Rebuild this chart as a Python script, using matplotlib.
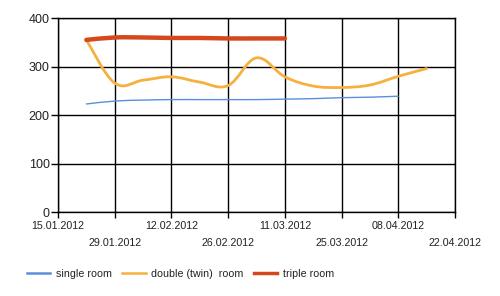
import matplotlib
matplotlib.use('Agg')
import matplotlib.pyplot as plt
import matplotlib.dates as mdates
from matplotlib.path import Path
from matplotlib.patches import PathPatch
from matplotlib.lines import Line2D
import numpy as np
import datetime as dt

plt.rcParams['font.family'] = ['Liberation Sans', 'DejaVu Sans']

# weekly observations
single_dates = ['22.01.2012', '29.01.2012', '05.02.2012', '12.02.2012', '19.02.2012', '26.02.2012',
                '04.03.2012', '11.03.2012', '18.03.2012', '25.03.2012', '01.04.2012', '08.04.2012']
single_vals = [223, 229, 231, 232, 232, 232, 232, 233, 234, 236, 237, 239]

double_dates = ['22.01.2012', '29.01.2012', '05.02.2012', '12.02.2012', '19.02.2012', '26.02.2012',
                '04.03.2012', '11.03.2012', '18.03.2012', '25.03.2012', '01.04.2012', '08.04.2012',
                '15.04.2012']
double_vals = [355, 266, 272, 279, 268, 261, 318, 279, 260, 257, 262, 280, 296]

triple_dates = ['22.01.2012', '29.01.2012', '05.02.2012', '12.02.2012', '19.02.2012', '26.02.2012',
                '04.03.2012', '11.03.2012']
triple_vals = [355, 360, 360, 359, 359, 358, 358, 358]

tick_labels = ['15.01.2012', '29.01.2012', '12.02.2012', '26.02.2012',
               '11.03.2012', '25.03.2012', '08.04.2012', '22.04.2012']

series = [
    ('single room', single_dates, single_vals, '#5b8fdc', 1.0),
    ('double (twin)  room', double_dates, double_vals, '#f5b040', 2.0),
    ('triple room', triple_dates, triple_vals, '#d4481c', 3.2),
]


def to_num(ds):
    return mdates.date2num([dt.datetime.strptime(d, '%d.%m.%Y') for d in ds])


def smooth_path(x, y, k=0.18):
    # cubic bezier through the points (cardinal-spline style smoothing)
    pts = np.column_stack([x, y])
    verts = [pts[0]]
    codes = [Path.MOVETO]
    n = len(pts)
    for i in range(n - 1):
        p0 = pts[max(i - 1, 0)]
        p1 = pts[i]
        p2 = pts[i + 1]
        p3 = pts[min(i + 2, n - 1)]
        c1 = p1 + (p2 - p0) * k
        c2 = p2 - (p3 - p1) * k
        verts += [c1, c2, p2]
        codes += [Path.CURVE4] * 3
    return Path(verts, codes)


fig = plt.figure(figsize=(5, 2.96), dpi=100)
ax = fig.add_axes([0.116, 0.283, 0.794, 0.656])

handles = []
for name, ds, vals, col, lw in series:
    x = to_num(ds)
    patch = PathPatch(smooth_path(x, np.array(vals, float)), facecolor='none',
                      edgecolor=col, lw=lw, capstyle='round', joinstyle='round', zorder=3)
    ax.add_patch(patch)
    handles.append(Line2D([0], [0], color=col, lw=1.8 if lw < 3 else 2.5, label=name))

xt = to_num(tick_labels)
ax.set_xlim(xt[0], xt[-1])
ax.set_ylim(0, 400)
ax.set_yticks([0, 100, 200, 300, 400])
ax.set_xticks(xt)
ax.set_xticklabels([t if i % 2 == 0 else '\n' + t for i, t in enumerate(tick_labels)],
                   fontsize=7.7, color='#222222', linespacing=1.9)
ax.tick_params(axis='y', labelsize=9, length=5, width=1, colors='black', labelcolor='#222222', pad=1)
ax.tick_params(axis='x', length=4, width=1, pad=2)
ax.grid(True, color='black', lw=1)
for s in ax.spines.values():
    s.set_color('black')
    s.set_linewidth(1)

fig.legend(handles=handles, loc='lower left', bbox_to_anchor=(0.034, 0.025), ncol=3,
           frameon=False, fontsize=7.7, handlelength=2.2, handletextpad=0.5,
           columnspacing=1.0, labelcolor='#222222')

plt.savefig('out.png', dpi=100)
